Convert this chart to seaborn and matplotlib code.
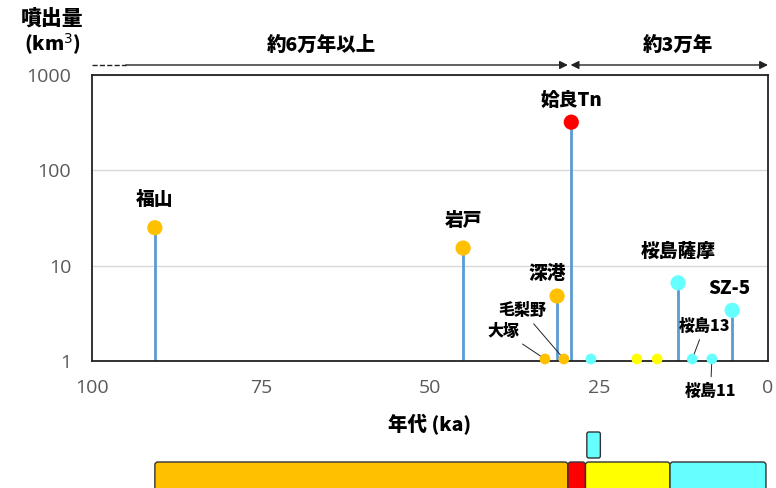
import numpy as np
import pandas as pd
import matplotlib
matplotlib.use("Agg")
import matplotlib.pyplot as plt
from matplotlib.patches import FancyBboxPatch
import seaborn as sns

# eruption data (age in ka, volume in km3)
names = ["福山", "岩戸", "大塚", "毛梨野", "深港", "姶良Tn", "", "", "",
         "桜島薩摩", "桜島13", "桜島11", "SZ-5"]
ages = [90.7, 45.1, 33.0, 30.2, 31.2, 29.1, 26.2, 19.4, 16.4, 13.3, 11.2, 8.3, 5.3]
volumes = [25, 15.3, 1.05, 1.05, 4.8, 320, 1.05, 1.05, 1.05, 6.6, 1.05, 1.05, 3.4]
groups = ["orange", "orange", "orange", "orange", "orange", "red", "cyan",
          "yellow", "yellow", "cyan", "cyan", "cyan", "cyan"]

# timeline bars
seg_start = [90.7, 29.6, 27.0, 14.5]
seg_end = [29.6, 27.0, 14.5, 0.3]
seg_group = ["orange", "red", "yellow", "cyan"]
extra_start, extra_end = 26.8, 24.8

palette = {"orange": "#FFC000", "red": "#FF0000", "yellow": "#FFFF00", "cyan": "#66FFFF"}
stem_color = "#5B9BD5"

sns.set_style("white")
jp = ["Noto Sans CJK JP", "DejaVu Sans"]
plt.rcParams["font.family"] = ["Open Sans", "DejaVu Sans"]
plt.rcParams["text.color"] = "black"
plt.rcParams["axes.labelcolor"] = "black"

df = pd.DataFrame({"name": names, "age": ages, "volume": volumes, "group": groups})
df["big"] = df["volume"] > 1.2

fig = plt.figure(figsize=(7.76, 4.88), dpi=100)
W, H = 776, 488
ax = fig.add_axes([92 / W, (H - 361) / H, (768 - 92) / W, (361 - 75) / H])

# stems
big = df[df["big"]]
ax.vlines(big["age"], 1, big["volume"], color=stem_color, lw=2, zorder=2)

sns.scatterplot(data=df, x="age", y="volume", hue="group", palette=palette,
                size="big", sizes={True: 120, False: 60}, legend=False,
                edgecolor="none", zorder=3, clip_on=False, ax=ax)

ax.set_yscale("log")
ax.set_ylim(1, 1000)
ax.set_xlim(100, 0)
ax.set_yticks([1, 10, 100, 1000])
ax.set_yticklabels(["1", "10", "100", "1000"])
ax.set_xticks([100, 75, 50, 25, 0])
ax.minorticks_off()
ax.yaxis.grid(True, color="#D9D9D9", lw=1)
ax.tick_params(axis="both", length=0, labelsize=14, labelcolor="#595959")
ax.tick_params(axis="x", pad=13)
ax.tick_params(axis="y", pad=15)
for s in ax.spines.values():
    s.set_color("#222222")
    s.set_linewidth(1.3)
ax.set_ylabel("")
ax.set_xlabel("年代 (ka)", fontsize=14, fontweight="heavy", family=jp, labelpad=12)

# labels above markers
above = {"福山": (0, 20), "岩戸": (0, 20), "深港": (-7, 16), "姶良Tn": (0, 16),
         "桜島薩摩": (0, 23), "SZ-5": (-2, 16)}
for _, r in df.iterrows():
    if r["name"] in above:
        ax.annotate(r["name"], (r["age"], r["volume"]), xytext=above[r["name"]],
                    textcoords="offset points", ha="center", va="center",
                    fontsize=13.5, fontweight="heavy", family=jp)

# labels with leader lines
leader = {"大塚": (-30, 20), "毛梨野": (-30, 35), "桜島13": (9, 24), "桜島11": (-1, -23)}
for _, r in df.iterrows():
    if r["name"] in leader:
        ax.annotate(r["name"], (r["age"], r["volume"]), xytext=leader[r["name"]],
                    textcoords="offset points", ha="center", va="center",
                    fontsize=11.5, fontweight="heavy", family=jp, annotation_clip=False,
                    arrowprops=dict(arrowstyle="-", lw=0.7, color="#222222",
                                    shrinkA=2, shrinkB=4))

# period arrows above the plot
ya = 1.035
ax.plot([100, 95], [ya, ya], transform=ax.get_xaxis_transform(), ls="--",
        color="#222222", lw=1, clip_on=False)
ax.annotate("", xy=(29.6, ya), xytext=(95, ya), xycoords=ax.get_xaxis_transform(),
            arrowprops=dict(arrowstyle="-|>", color="#222222", lw=1,
                            mutation_scale=12, shrinkA=0, shrinkB=0))
ax.annotate("", xy=(0, ya), xytext=(29.2, ya), xycoords=ax.get_xaxis_transform(),
            arrowprops=dict(arrowstyle="<|-|>", color="#222222", lw=1,
                            mutation_scale=12, shrinkA=0, shrinkB=0))
ax.text(66, 1.105, "約6万年以上", transform=ax.get_xaxis_transform(), ha="center",
        va="center", fontsize=14, fontweight="heavy", family=jp)
ax.text(13.3, 1.105, "約3万年", transform=ax.get_xaxis_transform(), ha="center",
        va="center", fontsize=14, fontweight="heavy", family=jp)

fig.text(52 / W, 1 - 18 / H, "噴出量", ha="center", va="center", fontsize=15,
         fontweight="heavy", family=jp)
fig.text(52 / W, 1 - 44 / H, "(km$^3$)", ha="center", va="center", fontsize=14,
         fontweight="heavy", family=jp)

# timeline strip (data y in pixels)
ax2 = fig.add_axes([92 / W, (H - 500) / H, (768 - 92) / W, 75 / H])
ax2.set_xlim(100, 0)
ax2.set_ylim(500, 425)
ax2.axis("off")
pxk = (768 - 92) / 100
for a0, a1, g in zip(seg_start, seg_end, seg_group):
    ax2.add_patch(FancyBboxPatch((a1, 462), a0 - a1, 36,
                                 boxstyle="round,pad=0,rounding_size=0.45",
                                 mutation_aspect=pxk, fc=palette[g],
                                 ec="#333333", lw=1))
ax2.add_patch(FancyBboxPatch((extra_end, 432), extra_start - extra_end, 26,
                             boxstyle="round,pad=0,rounding_size=0.3",
                             mutation_aspect=pxk, fc=palette["cyan"],
                             ec="#333333", lw=1))

fig.savefig("out.png", dpi=100)
